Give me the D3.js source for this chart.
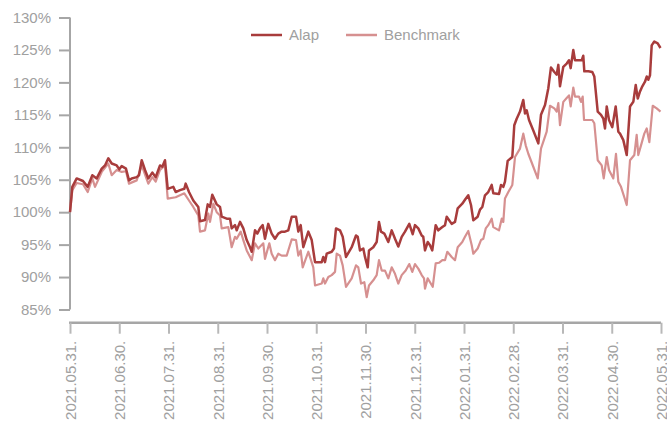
<!DOCTYPE html>
<html><head><meta charset="utf-8">
<script src="https://cdn.jsdelivr.net/npm/d3@7"></script>
<style>body{margin:0;background:#fff}svg{display:block}text{font-family:"Liberation Sans",Arial,sans-serif}</style>
</head><body><svg id="c" width="667" height="425"></svg>
<script>
const monthLabels = ["2021.05.31.","2021.06.30.","2021.07.31.","2021.08.31.","2021.09.30.","2021.10.31.","2021.11.30.","2021.12.31.","2022.01.31.","2022.02.28.","2022.03.31.","2022.04.30.","2022.05.31."];
const yTicks = [85,90,95,100,105,110,115,120,125,130];
const seriesNames = ["Alap","Benchmark"];
// [position in months since 2021.05.31., value %]
const alap = [[0,100.0],[0.047,103.9],[0.136,105.2],[0.264,104.8],[0.359,103.9],[0.453,105.7],[0.542,105.2],[0.644,106.7],[0.711,107.2],[0.778,108.3],[0.847,107.5],[0.948,107.2],[1.001,106.6],[1.050,107.1],[1.137,106.7],[1.198,104.9],[1.253,105.2],[1.354,105.4],[1.401,105.7],[1.456,108.0],[1.523,106.5],[1.590,105.2],[1.671,106.1],[1.740,105.4],[1.827,107.2],[1.874,107.0],[1.929,108.0],[1.984,103.6],[2.097,103.9],[2.146,103.1],[2.234,103.4],[2.321,103.6],[2.349,104.4],[2.416,103.1],[2.503,101.8],[2.605,100.8],[2.640,98.6],[2.741,98.8],[2.796,101.2],[2.843,100.8],[2.889,102.7],[2.979,101.2],[3.046,100.8],[3.080,99.3],[3.182,99.0],[3.249,99.0],[3.283,97.5],[3.350,98.0],[3.385,97.2],[3.452,98.5],[3.519,97.5],[3.588,95.7],[3.655,94.6],[3.690,93.9],[3.756,97.2],[3.803,96.7],[3.858,97.5],[3.913,98.0],[3.959,95.9],[4.026,98.2],[4.095,96.7],[4.162,95.9],[4.229,96.7],[4.298,97.0],[4.365,97.0],[4.432,97.2],[4.502,99.3],[4.589,99.3],[4.636,97.0],[4.684,98.0],[4.737,94.6],[4.839,97.0],[4.908,95.7],[4.975,92.3],[5.111,92.3],[5.143,93.1],[5.178,92.3],[5.212,93.6],[5.314,93.9],[5.360,94.4],[5.401,97.5],[5.482,97.2],[5.537,96.2],[5.604,93.1],[5.720,94.6],[5.807,96.4],[5.842,96.2],[5.888,94.1],[5.955,94.4],[5.990,93.1],[6.045,91.5],[6.071,94.1],[6.158,94.6],[6.227,95.4],[6.274,98.5],[6.315,97.0],[6.382,96.7],[6.463,95.4],[6.532,97.2],[6.599,95.9],[6.666,94.7],[6.735,96.2],[6.802,97.0],[6.889,98.2],[6.958,96.6],[7.005,98.0],[7.072,97.5],[7.141,96.4],[7.173,96.2],[7.208,94.1],[7.263,95.4],[7.310,94.9],[7.356,94.1],[7.425,98.0],[7.478,97.2],[7.560,97.7],[7.614,98.0],[7.649,99.3],[7.750,98.2],[7.817,98.5],[7.872,100.6],[7.965,101.3],[8.020,101.9],[8.087,102.6],[8.142,101.1],[8.189,98.75],[8.278,99.3],[8.325,100.4],[8.372,100.8],[8.426,102.6],[8.493,103.1],[8.562,104.2],[8.595,102.9],[8.711,102.8],[8.751,104.2],[8.798,103.9],[8.832,104.7],[8.887,107.9],[8.981,108.5],[9.021,113.4],[9.070,114.4],[9.137,115.5],[9.204,117.3],[9.239,115.2],[9.273,115.7],[9.320,114.2],[9.407,112.6],[9.509,110.6],[9.563,115.0],[9.645,116.5],[9.712,119.1],[9.766,122.3],[9.834,121.6],[9.882,121.2],[9.915,122.7],[9.949,119.4],[10.016,122.4],[10.085,122.9],[10.132,123.4],[10.166,122.2],[10.219,125.0],[10.254,123.4],[10.321,123.4],[10.390,123.4],[10.422,124.1],[10.443,121.7],[10.524,121.7],[10.605,121.6],[10.646,120.9],[10.715,115.5],[10.782,115.0],[10.829,114.4],[10.863,112.9],[10.898,116.3],[10.944,114.2],[11.011,113.1],[11.080,116.3],[11.133,112.4],[11.168,112.1],[11.235,111.1],[11.304,108.8],[11.371,116.3],[11.438,117.0],[11.487,119.6],[11.528,117.5],[11.574,118.6],[11.621,119.4],[11.675,120.1],[11.710,120.9],[11.742,120.4],[11.777,121.1],[11.811,125.7],[11.864,126.3],[11.933,126.0],[11.990,125.3]];
const benchmark = [[0,100.0],[0.047,103.4],[0.136,104.5],[0.264,104.3],[0.359,103.1],[0.453,105.2],[0.508,103.9],[0.644,106.2],[0.778,107.5],[0.847,105.7],[0.948,106.5],[1.050,106.2],[1.137,106.3],[1.198,104.4],[1.354,104.9],[1.456,107.2],[1.590,104.4],[1.671,105.4],[1.740,104.7],[1.827,106.5],[1.929,107.2],[1.984,102.1],[2.146,102.3],[2.321,102.9],[2.416,101.8],[2.503,100.8],[2.605,99.5],[2.640,97.0],[2.741,97.2],[2.808,99.8],[2.843,98.5],[2.910,101.3],[2.979,100.0],[3.046,99.5],[3.080,97.5],[3.214,97.7],[3.283,94.6],[3.350,96.2],[3.385,95.9],[3.466,97.0],[3.519,95.7],[3.588,94.1],[3.690,92.6],[3.756,95.2],[3.823,94.4],[3.925,95.2],[3.959,92.8],[4.047,95.2],[4.095,93.6],[4.162,92.6],[4.229,93.6],[4.298,93.3],[4.400,93.3],[4.432,94.1],[4.502,95.8],[4.589,95.7],[4.636,93.3],[4.684,94.1],[4.725,91.5],[4.839,93.9],[4.940,91.5],[4.975,88.7],[5.111,89.0],[5.143,89.8],[5.178,89.0],[5.245,90.0],[5.314,90.3],[5.381,90.8],[5.415,93.6],[5.482,93.3],[5.537,91.8],[5.604,88.5],[5.720,89.8],[5.807,91.8],[5.854,91.5],[5.909,89.0],[5.976,89.2],[6.024,86.9],[6.071,88.7],[6.158,89.5],[6.227,90.3],[6.274,92.6],[6.329,91.0],[6.396,91.0],[6.463,89.8],[6.532,91.5],[6.599,90.5],[6.666,89.0],[6.735,90.3],[6.816,91.0],[6.889,92.0],[6.950,90.8],[7.005,92.0],[7.072,91.3],[7.141,90.3],[7.188,89.8],[7.208,88.2],[7.263,89.8],[7.310,89.2],[7.365,88.5],[7.425,92.1],[7.492,92.2],[7.560,92.6],[7.614,92.6],[7.661,93.9],[7.750,93.1],[7.817,92.6],[7.872,94.6],[7.965,95.4],[8.020,96.2],[8.087,97.1],[8.157,94.9],[8.189,93.6],[8.278,94.4],[8.345,95.7],[8.392,95.9],[8.441,97.5],[8.493,98.0],[8.562,99.0],[8.595,97.7],[8.711,97.2],[8.766,99.0],[8.798,98.5],[8.832,102.1],[8.900,103.1],[8.981,104.2],[9.036,108.5],[9.137,109.8],[9.204,112.1],[9.253,110.3],[9.306,109.0],[9.407,107.0],[9.497,105.2],[9.563,109.8],[9.679,112.4],[9.746,116.4],[9.834,116.0],[9.882,115.5],[9.915,116.8],[9.949,113.4],[10.016,117.0],[10.085,117.6],[10.132,118.0],[10.166,116.3],[10.219,119.2],[10.254,117.8],[10.335,117.8],[10.376,117.0],[10.410,117.8],[10.437,114.2],[10.605,114.2],[10.646,113.7],[10.715,108.0],[10.796,107.2],[10.837,105.2],[10.898,108.5],[10.944,106.5],[11.032,105.2],[11.086,109.0],[11.133,104.7],[11.188,103.9],[11.255,102.3],[11.304,101.1],[11.371,108.0],[11.458,108.8],[11.506,111.9],[11.539,108.8],[11.594,110.3],[11.661,112.1],[11.710,112.9],[11.763,110.8],[11.832,116.4],[11.913,116.0],[11.990,115.5]];

const colors = ["#a83c3c","#d69090"];
const svg = d3.select("#c");
const gray = "#a6a6a6";
const x = d3.scaleLinear().domain([0,12]).range([70,661]);
const y = d3.scaleLinear().domain([85,130]).range([309.5,17.5]);

// y axis
const ya = svg.append("g").attr("transform","translate(70,0)")
  .call(d3.axisLeft(y).tickValues(yTicks).tickSize(11).tickPadding(8).tickFormat(d=>d+"%"));
ya.select(".domain").attr("stroke",gray).attr("stroke-width",2).attr("d","M0,"+y(85)+"V"+y(130));
ya.selectAll(".tick line").attr("stroke",gray).attr("stroke-width",2);
ya.selectAll(".tick text").attr("fill","#a0a0a0").style("font-size","15px").attr("font-family","Liberation Sans, Arial, sans-serif");

// x axis
const xa = svg.append("g").attr("transform","translate(0,322.7)")
  .call(d3.axisBottom(x).tickValues(d3.range(13)).tickSize(11).tickFormat(i=>monthLabels[i]));
xa.select(".domain").attr("stroke",gray).attr("stroke-width",2.5).attr("d","M69,0H661");
xa.selectAll(".tick line").attr("stroke","#b8b8b8").attr("stroke-width",2);
xa.selectAll(".tick text").attr("fill","#a0a0a0").style("font-size","15px")
  .attr("transform","rotate(-90)").attr("text-anchor","end").attr("dy","0.35em").attr("x",-18).attr("y",0);

const line = d3.line().x(d=>x(d[0])).y(d=>y(d[1]));
svg.append("path").datum(benchmark).attr("fill","none").attr("stroke",colors[1]).attr("stroke-width",2.2).attr("stroke-linejoin","round").attr("d",line);
svg.append("path").datum(alap).attr("fill","none").attr("stroke",colors[0]).attr("stroke-width",2.5).attr("stroke-linejoin","round").attr("d",line);

// legend
const lg = svg.append("g");
const legX = [251,346];
seriesNames.forEach((n,i)=>{
  lg.append("line").attr("x1",legX[i]).attr("x2",legX[i]+31).attr("y1",35).attr("y2",35).attr("stroke",colors[i]).attr("stroke-width",2.5);
  lg.append("text").attr("x",legX[i]+38).attr("y",35).attr("dy","0.35em").attr("fill","#a0a0a0").style("font-size","15px").text(n);
});
</script></body></html>
